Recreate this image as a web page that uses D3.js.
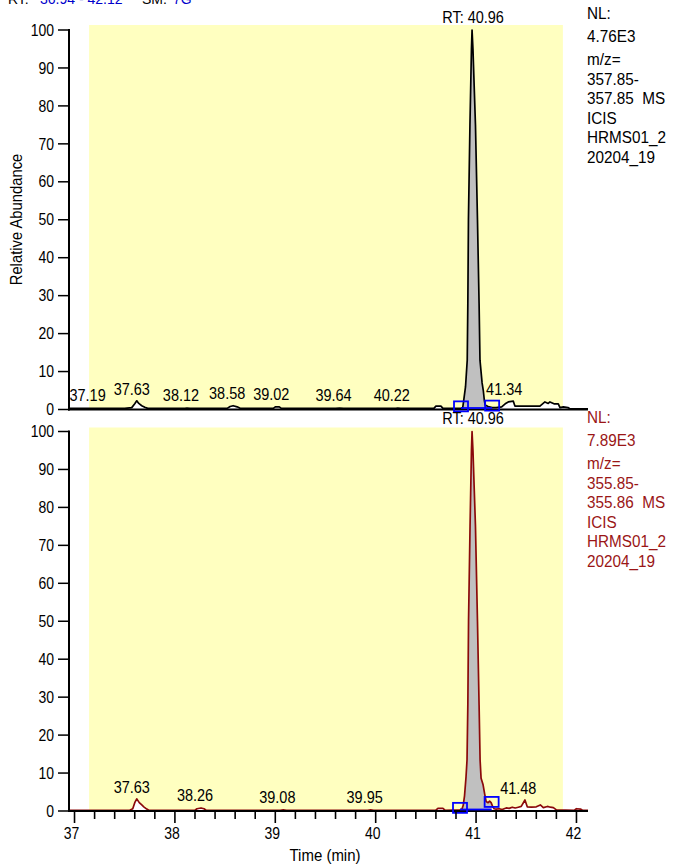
<!DOCTYPE html>
<html><head><meta charset="utf-8">
<script src="https://cdn.jsdelivr.net/npm/d3@7"></script>
<style>
body{margin:0;background:#fff}
svg{display:block}
text{font-family:Arial,"Liberation Sans",sans-serif;white-space:pre}
</style>
</head><body>
<svg id="c" width="674" height="864"></svg>
<script>
// ---------- data ----------
const xDomain = [36.935, 42.115];
const yellowRange = [37.145, 41.865];
const xTicks = [37, 38, 39, 40, 41, 42];
const yTicks = [0, 10, 20, 30, 40, 50, 60, 70, 80, 90, 100];
const apexRT = 40.96;

const topTime = [36.935,37.5,37.57,37.6,37.62,37.64,37.67,37.7,37.73,38.1,38.12,38.15,38.52,38.55,38.58,38.62,38.65,38.98,39.0,39.04,39.06,39.6,39.64,39.68,40.2,40.22,40.25,40.58,40.6,40.65,40.67,40.85,40.867,40.875,40.895,40.912,40.918,40.924,40.939,40.954,40.96,40.969,40.994,41.014,41.03,41.039,41.06,41.072,41.082,41.09,41.12,41.16,41.2,41.255,41.29,41.321,41.371,41.387,41.45,41.55,41.636,41.686,41.719,41.736,41.776,41.819,41.836,41.869,41.915,41.935,42.115];
const topInt  = [0.3,0.3,0.5,1.5,2.3,1.6,1.0,0.6,0.3,0.3,0.4,0.3,0.3,0.8,1.0,0.7,0.3,0.3,0.7,0.7,0.3,0.3,0.4,0.3,0.3,0.4,0.3,0.3,0.9,0.9,0.3,0.3,0.5,2,6,13,28,50,75,95,100,95,75,50,28,13,7,5,2.5,1.2,0.8,0.5,0.5,0.7,1.5,2.0,2.2,0.9,0.9,0.9,0.9,2.0,1.6,2.0,1.5,1.5,0.5,0.7,0.5,0.2,0.2];

const botTime = [36.935,37.55,37.58,37.6,37.62,37.645,37.67,37.69,37.72,37.74,38.2,38.22,38.26,38.29,38.31,39.05,39.08,39.11,39.92,39.95,39.98,40.6,40.62,40.67,40.69,40.84,40.86,40.872,40.885,40.9,40.91,40.918,40.925,40.94,40.954,40.96,40.969,40.994,41.014,41.03,41.04,41.05,41.07,41.085,41.1,41.12,41.135,41.15,41.165,41.18,41.2,41.23,41.26,41.3,41.33,41.36,41.39,41.42,41.45,41.487,41.51,41.55,41.6,41.64,41.67,41.71,41.74,41.77,41.8,41.98,42.0,42.04,42.06,42.115];
const botInt  = [0.2,0.2,0.6,2.2,3.2,2.2,1.6,1.1,0.5,0.2,0.2,0.6,0.8,0.6,0.2,0.2,0.3,0.2,0.2,0.3,0.2,0.2,0.7,0.7,0.2,0.3,0.5,1.5,4,9,13.5,28,50,75,95,100,95,75,50,28,13.5,8.6,6.9,4.6,2.5,2.2,2.6,2.2,1.2,0.6,0.5,0.6,0.4,0.8,0.7,1.0,0.8,1.0,1.2,2.9,1.1,1.0,1.1,1.6,0.9,1.2,1.0,0.9,0.3,0.2,0.6,0.5,0.2,0.2];

const topLabels = [37.19, 37.63, 38.12, 38.58, 39.02, 39.64, 40.22, 41.34];
const botLabels = [37.63, 38.26, 39.08, 39.95, 41.48];
const topPeakBounds = [40.85, 41.16];
const botPeakBounds = [40.84, 41.155];

const topInfo = ["NL:", "4.76E3", "m/z=", "357.85-", "357.85  MS", "ICIS", "HRMS01_2", "20204_19"];
const botInfo = ["NL:", "7.89E3", "m/z=", "355.85-", "355.86  MS", "ICIS", "HRMS01_2", "20204_19"];
const infoOffsets = [0, 23, 46, 65.5, 85, 104.5, 124, 143.5];

// ---------- layout ----------
const svg = d3.select("#c");
const x = d3.scaleLinear().domain(xDomain).range([68, 588]);
const STRETCH = 1.12;
function addText(g, px, py, str, size, opts = {}) {
  const t = g.append("text")
    .attr("transform", `translate(${px},${py}) scale(1,${STRETCH})`)
    .attr("font-size", size).attr("fill", opts.fill || "#000")
    .attr("text-anchor", opts.anchor || "start")
    .text(str);
  if (opts.dy) t.attr("dy", opts.dy);
  return t;
}

const panels = [
  {time: topTime, vals: topInt, labels: topLabels, bounds: topPeakBounds, info: topInfo,
   y: d3.scaleLinear().domain([0,100]).range([409.5, 30]), color: "#000000", infoColor: "#000000", infoTop: 19, yellowTop: 25},
  {time: botTime, vals: botInt, labels: botLabels, bounds: botPeakBounds, info: botInfo,
   y: d3.scaleLinear().domain([0,100]).range([811, 431.5]), color: "#8b0a0a", infoColor: "#9a1616", infoTop: 423, yellowTop: 427.5}
];

function levelAt(times, vals, t){
  const i = d3.bisectLeft(times, t);
  if (i <= 0) return vals[0];
  if (i >= times.length) return vals[vals.length-1];
  const t0 = times[i-1], t1 = times[i];
  return vals[i-1] + (vals[i]-vals[i-1])*(t-t0)/(t1-t0);
}

// header (mostly cropped above the page, as in the reference)
const hdr = svg.append("text").attr("y", 3.5).attr("font-size", 14);
hdr.append("tspan").attr("x", 8).attr("fill", "#000").text("RT:");
hdr.append("tspan").attr("x", 40).attr("fill", "#0000cc").text("36.94 - 42.12");
hdr.append("tspan").attr("x", 142).attr("fill", "#000").text("SM:");
hdr.append("tspan").attr("x", 173).attr("fill", "#0000cc").text("7G");

panels.forEach((p) => {
  const y = p.y;
  const g = svg.append("g");
  g.append("rect")
    .attr("x", x(yellowRange[0])).attr("y", p.yellowTop)
    .attr("width", x(yellowRange[1]) - x(yellowRange[0]))
    .attr("height", y(0) - p.yellowTop)
    .attr("fill", "#ffffc0");

  const pts = p.time.map((t, i) => [t, p.vals[i]]);
  g.append("path").datum(pts)
    .attr("d", d3.area().x(d => x(d[0])).y0(y(0)).y1(d => y(d[1])))
    .attr("fill", "#ffffff");
  const pk = [[p.bounds[0], levelAt(p.time, p.vals, p.bounds[0])]]
    .concat(pts.filter(d => d[0] > p.bounds[0] && d[0] < p.bounds[1]))
    .concat([[p.bounds[1], levelAt(p.time, p.vals, p.bounds[1])]]);
  g.append("path").datum(pk)
    .attr("d", d3.area().x(d => x(d[0])).y0(y(0)).y1(d => y(d[1])))
    .attr("fill", "#c0c0c0");
  g.append("path").datum(pts)
    .attr("d", d3.line().x(d => x(d[0])).y(d => y(d[1])))
    .attr("fill", "none").attr("stroke", p.color).attr("stroke-width", 1.7)
    .attr("stroke-linejoin", "round");

  g.append("line").attr("x1", 68).attr("x2", 588).attr("y1", y(0)).attr("y2", y(0))
    .attr("stroke", "#000").attr("stroke-width", 2);
  g.append("line").attr("x1", 69).attr("x2", 69).attr("y1", y(100) - 1).attr("y2", y(0) + 1)
    .attr("stroke", "#000").attr("stroke-width", 2);
  yTicks.forEach(v => {
    g.append("line").attr("x1", 58).attr("x2", 69).attr("y1", y(v)).attr("y2", y(v))
      .attr("stroke", "#000").attr("stroke-width", 1.5);
    addText(g, 54, y(v), String(v), 14, {anchor: "end", dy: "0.36em"});
  });

  const by = p.bounds.map(b => y(levelAt(p.time, p.vals, b)));
  g.append("line").attr("x1", x(p.bounds[0])).attr("x2", x(p.bounds[1]))
    .attr("y1", y(0) - 1.5).attr("y2", y(0) - 1.5)
    .attr("stroke", "#0000ff").attr("stroke-width", 1.8);
  p.bounds.forEach((b, i) => {
    g.append("rect").attr("x", x(b) - 7).attr("y", by[i] - 7)
      .attr("width", 14).attr("height", 10)
      .attr("fill", "none").attr("stroke", "#0000ff").attr("stroke-width", 1.8);
  });

  p.labels.forEach(t => {
    addText(g, x(t) - 6, y(levelAt(p.time, p.vals, t)) - 7, t.toFixed(2), 14.5, {anchor: "middle"});
  });
  addText(g, x(apexRT) + 1, y(100) - 7.5, "RT: " + apexRT.toFixed(2), 14.5, {anchor: "middle"});

  p.info.forEach((s, i) => {
    addText(g, 587, p.infoTop + infoOffsets[i], s, 15.3, {fill: p.infoColor});
  });
});

// x axis (bottom)
const yb = panels[1].y(0);
const xa = svg.append("g");
d3.range(37, 42.01, 0.2).forEach(t => {
  const major = Math.abs(t - Math.round(t)) < 1e-6;
  xa.append("line").attr("x1", x(t)).attr("x2", x(t)).attr("y1", yb).attr("y2", yb + (major ? 12 : 8))
    .attr("stroke", "#000").attr("stroke-width", 1.6);
});
xTicks.forEach(t => {
  addText(xa, x(t) - 3, 838.5, String(t), 14, {anchor: "middle"});
});
addText(xa, 325, 861, "Time (min)", 15, {anchor: "middle"});
svg.append("text").attr("transform", "translate(22,219.5) rotate(-90) scale(1.0,1.1)")
  .attr("text-anchor", "middle").attr("font-size", 14.8).attr("fill", "#000").text("Relative Abundance");
</script>
</body></html>
